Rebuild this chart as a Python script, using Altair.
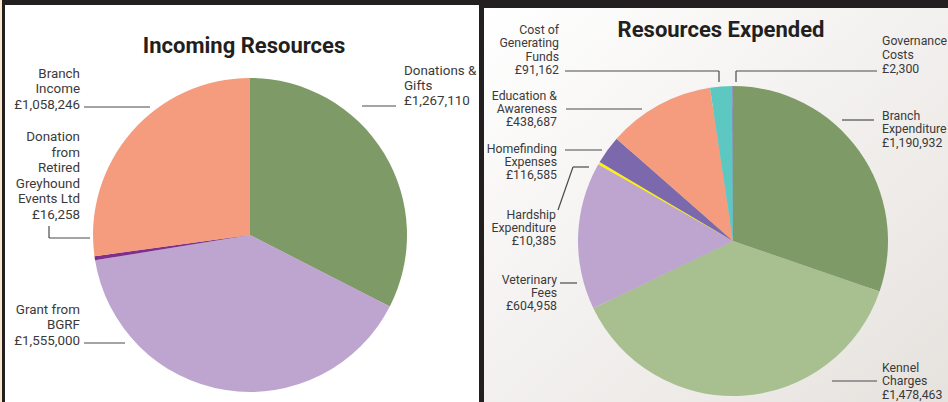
import altair as alt
import pandas as pd

# ---------------- data ----------------
in_names = ["Donations &\nGifts", "Grant from\nBGRF",
            "Donation\nfrom\nRetired\nGreyhound\nEvents Ltd", "Branch\nIncome"]
in_values = [1267110, 1555000, 16258, 1058246]
in_colors = ["#7e9a66", "#bda5cf", "#7e2f8e", "#f59c7e"]

ex_names = ["Branch\nExpenditure", "Kennel\nCharges", "Veterinary\nFees",
            "Hardship\nExpenditure", "Homefinding\nExpenses",
            "Education &\nAwareness", "Cost of\nGenerating\nFunds",
            "Governance\nCosts"]
ex_values = [1190932, 1478463, 604958, 10385, 116585, 438687, 91162, 2300]
ex_colors = ["#7e9a66", "#a8c08f", "#bda5cf", "#fff200", "#7b68ad",
             "#f59c7e", "#5dc7c2", "#7a5aa6"]

titles = ["Incoming Resources", "Resources Expended"]

# ---------------- layout (pixels) ----------------
W, H = 948, 402
FONT = "Roboto"
in_center, in_r = (250, 235), 157
ex_center, ex_r = (733, 241), 155
in_fs, ex_fs = 13.4, 12.3

# label anchor: x, first-line baseline y, align, line height
in_label_pos = [(404, 74.8, "left", 15.3), (80, 313.8, "right", 15.5),
                (80, 141.3, "right", 15.5), (80, 77.8, "right", 15.5)]
ex_label_pos = [(882, 119.6, "left", 13.6), (882, 371.6, "left", 13.6),
                (557, 283.6, "right", 13.3), (556, 218.6, "right", 13.3),
                (557, 152.6, "right", 13.3), (557, 99.6, "right", 13.3),
                (559, 33.6, "right", 13.5), (882, 44.6, "left", 14.4)]

leaders = [
    # incoming
    (84, 107, 150, 107), (49, 226, 49, 238), (49, 238, 90, 238),
    (362, 106, 396, 106), (84, 343, 125, 343),
    # expended
    (565, 71, 719, 71), (719, 71, 719, 82),
    (736, 71, 877, 71), (736, 71, 736, 82),
    (566, 109, 642, 109), (565, 150, 602, 150),
    (558, 210, 573, 167), (573, 167, 589, 167),
    (560, 283, 577, 283), (842, 120, 874, 120), (832, 381, 877, 381),
]

def pie_df(names, values):
    return pd.DataFrame({"name": [n.replace("\n", " ") for n in names],
                         "value": values, "order": list(range(len(values)))})

def label_df(names, values, pos):
    return pd.DataFrame({
        "text": [f"{n}\n£{v:,}" for n, v in zip(names, values)],
        "x": [p[0] for p in pos], "y": [p[1] for p in pos],
        "align": [p[2] for p in pos], "lh": [p[3] for p in pos]})

def pie(names, values, colors, center, r):
    df = pie_df(names, values)
    return alt.Chart(df).mark_arc(radius=r).encode(
        theta=alt.Theta("value:Q", stack=True),
        order=alt.Order("order:Q"),
        color=alt.Color("name:N", legend=None,
                        scale=alt.Scale(domain=list(df["name"]), range=colors)),
        x=alt.value(center[0]), y=alt.value(center[1]))

def shadow(center, r):
    out = []
    for d, op in [(2, 0.08), (4, 0.06), (6, 0.04)]:
        out.append(alt.Chart(pd.DataFrame({"a": [0]})).mark_circle(
            color="#000000", opacity=op).encode(
            x=alt.value(center[0] + d), y=alt.value(center[1] + d + 1),
            size=alt.value(3.1416 * (r + 1) ** 2)))
    return out

def labels(names, values, pos, fs):
    df = label_df(names, values, pos)
    layers = []
    for a in ["left", "right"]:
        for lh in sorted(set(df["lh"])):
            sub = df[(df["align"] == a) & (df["lh"] == lh)]
            if len(sub) == 0:
                continue
            layers.append(alt.Chart(sub).mark_text(
                align=a, baseline="alphabetic", lineBreak="\n", lineHeight=lh,
                font=FONT, fontSize=fs, color="#3a3a3a").encode(
                x=alt.X("x:Q", scale=None), y=alt.Y("y:Q", scale=None),
                text="text:N"))
    return layers

bg = [
    alt.Chart(pd.DataFrame({"a": [0]})).mark_rect(color="#fbe8cf").encode(
        x=alt.value(0), x2=alt.value(2), y=alt.value(0), y2=alt.value(H)),
    alt.Chart(pd.DataFrame({"a": [0]})).mark_rect(color="#ffffff").encode(
        x=alt.value(5), x2=alt.value(479), y=alt.value(5), y2=alt.value(H)),
    alt.Chart(pd.DataFrame({"a": [0]})).mark_rect(
        color=alt.Gradient(gradient="linear",
                           stops=[alt.GradientStop(color="#ffffff", offset=0),
                                  alt.GradientStop(color="#e6e2de", offset=1)],
                           x1=0, x2=1, y1=0, y2=1)).encode(
        x=alt.value(484), x2=alt.value(W), y=alt.value(8), y2=alt.value(H)),
]

lead_df = pd.DataFrame(leaders, columns=["x", "y", "x2", "y2"])
lead = alt.Chart(lead_df).mark_rule(color="#4a4a4a", strokeWidth=1.2).encode(
    x=alt.X("x:Q", scale=None), y=alt.Y("y:Q", scale=None),
    x2="x2:Q", y2="y2:Q")

title_df = pd.DataFrame({"t": titles, "x": [244, 721], "y": [53, 37]})
title = alt.Chart(title_df).mark_text(
    font=FONT, fontSize=22, fontWeight="bold", color="#231f20",
    baseline="alphabetic", align="center").encode(
    x=alt.X("x:Q", scale=None), y=alt.Y("y:Q", scale=None), text="t:N")

layers = bg + shadow(in_center, in_r) + shadow(ex_center, ex_r) + [
    pie(in_names, in_values, in_colors, in_center, in_r),
    pie(ex_names, ex_values, ex_colors, ex_center, ex_r),
    lead, title,
] + labels(in_names, in_values, in_label_pos, in_fs) \
  + labels(ex_names, ex_values, ex_label_pos, ex_fs)

chart = alt.layer(*layers).resolve_scale(
    theta="independent", color="independent"
).properties(
    width=W, height=H, padding=0, autosize=alt.AutoSizeParams(type="none"),
    background="#231f20"
).configure_view(stroke=None)

chart.save("out.html", embed_options={"renderer": "svg", "actions": False})
